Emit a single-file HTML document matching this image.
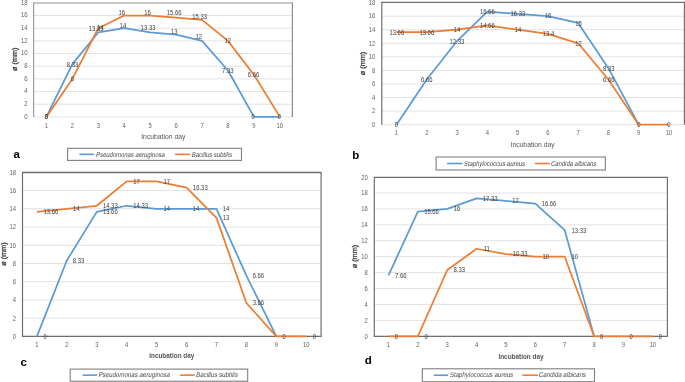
<!DOCTYPE html>
<html><head><meta charset="utf-8"><style>
html,body{margin:0;padding:0;background:#fff;width:685px;height:382px;overflow:hidden}
svg{display:block;will-change:transform}
text{font-family:"Liberation Sans",sans-serif}
</style></head><body>
<svg width="685" height="382" viewBox="0 0 685 382">
<rect width="685" height="382" fill="#fff"/>
<line x1="33.60" y1="116.90" x2="292.40" y2="116.90" stroke="#e2e2e2" stroke-width="1.0"/>
<line x1="33.60" y1="104.23" x2="292.40" y2="104.23" stroke="#e2e2e2" stroke-width="1.0"/>
<line x1="33.60" y1="91.57" x2="292.40" y2="91.57" stroke="#e2e2e2" stroke-width="1.0"/>
<line x1="33.60" y1="78.90" x2="292.40" y2="78.90" stroke="#e2e2e2" stroke-width="1.0"/>
<line x1="33.60" y1="66.23" x2="292.40" y2="66.23" stroke="#e2e2e2" stroke-width="1.0"/>
<line x1="33.60" y1="53.57" x2="292.40" y2="53.57" stroke="#e2e2e2" stroke-width="1.0"/>
<line x1="33.60" y1="40.90" x2="292.40" y2="40.90" stroke="#e2e2e2" stroke-width="1.0"/>
<line x1="33.60" y1="28.23" x2="292.40" y2="28.23" stroke="#e2e2e2" stroke-width="1.0"/>
<line x1="33.60" y1="15.57" x2="292.40" y2="15.57" stroke="#e2e2e2" stroke-width="1.0"/>
<line x1="33.60" y1="3.00" x2="292.40" y2="3.00" stroke="#b5b5b5" stroke-width="1.7"/>
<line x1="33.60" y1="2.40" x2="33.60" y2="116.90" stroke="#9a9a9a" stroke-width="1.2"/>
<line x1="292.40" y1="2.40" x2="292.40" y2="116.90" stroke="#8a8a8a" stroke-width="1.2"/>
<polyline points="46.40,116.90 72.34,64.14 98.28,32.48 124.22,28.23 150.16,32.48 176.10,34.57 202.04,40.90 227.98,70.48 253.92,116.90 279.86,116.90" fill="none" stroke="#5b9bd5" stroke-width="1.75" stroke-linejoin="round" stroke-linecap="butt"/>
<polyline points="46.40,116.90 72.34,78.90 98.28,28.23 124.22,15.57 150.16,15.57 176.10,17.72 202.04,19.81 227.98,40.90 253.92,74.72 279.86,116.90" fill="none" stroke="#ed7d31" stroke-width="1.75" stroke-linejoin="round" stroke-linecap="butt"/>
<text transform="translate(27.50,118.70) scale(0.88,1)" font-size="6.7" text-anchor="end" fill="#636363" font-weight="normal">0</text>
<text transform="translate(27.50,106.03) scale(0.88,1)" font-size="6.7" text-anchor="end" fill="#636363" font-weight="normal">2</text>
<text transform="translate(27.50,93.37) scale(0.88,1)" font-size="6.7" text-anchor="end" fill="#636363" font-weight="normal">4</text>
<text transform="translate(27.50,80.70) scale(0.88,1)" font-size="6.7" text-anchor="end" fill="#636363" font-weight="normal">6</text>
<text transform="translate(27.50,68.03) scale(0.88,1)" font-size="6.7" text-anchor="end" fill="#636363" font-weight="normal">8</text>
<text transform="translate(27.50,55.37) scale(0.88,1)" font-size="6.7" text-anchor="end" fill="#636363" font-weight="normal">10</text>
<text transform="translate(27.50,42.70) scale(0.88,1)" font-size="6.7" text-anchor="end" fill="#636363" font-weight="normal">12</text>
<text transform="translate(27.50,30.03) scale(0.88,1)" font-size="6.7" text-anchor="end" fill="#636363" font-weight="normal">14</text>
<text transform="translate(27.50,17.37) scale(0.88,1)" font-size="6.7" text-anchor="end" fill="#636363" font-weight="normal">16</text>
<text transform="translate(27.50,4.70) scale(0.88,1)" font-size="6.7" text-anchor="end" fill="#636363" font-weight="normal">18</text>
<text transform="translate(46.40,127.70) scale(0.88,1)" font-size="6.7" text-anchor="middle" fill="#636363" font-weight="normal">1</text>
<text transform="translate(72.34,127.70) scale(0.88,1)" font-size="6.7" text-anchor="middle" fill="#636363" font-weight="normal">2</text>
<text transform="translate(98.28,127.70) scale(0.88,1)" font-size="6.7" text-anchor="middle" fill="#636363" font-weight="normal">3</text>
<text transform="translate(124.22,127.70) scale(0.88,1)" font-size="6.7" text-anchor="middle" fill="#636363" font-weight="normal">4</text>
<text transform="translate(150.16,127.70) scale(0.88,1)" font-size="6.7" text-anchor="middle" fill="#636363" font-weight="normal">5</text>
<text transform="translate(176.10,127.70) scale(0.88,1)" font-size="6.7" text-anchor="middle" fill="#636363" font-weight="normal">6</text>
<text transform="translate(202.04,127.70) scale(0.88,1)" font-size="6.7" text-anchor="middle" fill="#636363" font-weight="normal">7</text>
<text transform="translate(227.98,127.70) scale(0.88,1)" font-size="6.7" text-anchor="middle" fill="#636363" font-weight="normal">8</text>
<text transform="translate(253.92,127.70) scale(0.88,1)" font-size="6.7" text-anchor="middle" fill="#636363" font-weight="normal">9</text>
<text transform="translate(279.86,127.70) scale(0.88,1)" font-size="6.7" text-anchor="middle" fill="#636363" font-weight="normal">10</text>
<text transform="translate(46.40,119.40) scale(0.88,1)" font-size="6.7" text-anchor="middle" fill="#404040" font-weight="normal">0</text>
<text transform="translate(72.50,66.60) scale(0.88,1)" font-size="6.7" text-anchor="middle" fill="#404040" font-weight="normal">8.33</text>
<text transform="translate(96.10,30.50) scale(0.88,1)" font-size="6.7" text-anchor="middle" fill="#404040" font-weight="normal">13.33</text>
<text transform="translate(100.20,30.00) scale(0.88,1)" font-size="6.7" text-anchor="middle" fill="#404040" font-weight="normal">14</text>
<text transform="translate(123.00,27.50) scale(0.88,1)" font-size="6.7" text-anchor="middle" fill="#404040" font-weight="normal">14</text>
<text transform="translate(148.10,29.90) scale(0.88,1)" font-size="6.7" text-anchor="middle" fill="#404040" font-weight="normal">13.33</text>
<text transform="translate(174.30,33.80) scale(0.88,1)" font-size="6.7" text-anchor="middle" fill="#404040" font-weight="normal">13</text>
<text transform="translate(198.70,39.30) scale(0.88,1)" font-size="6.7" text-anchor="middle" fill="#404040" font-weight="normal">12</text>
<text transform="translate(227.80,73.00) scale(0.88,1)" font-size="6.7" text-anchor="middle" fill="#404040" font-weight="normal">7.33</text>
<text transform="translate(253.10,119.40) scale(0.88,1)" font-size="6.7" text-anchor="middle" fill="#404040" font-weight="normal">0</text>
<text transform="translate(46.40,119.40) scale(0.88,1)" font-size="6.7" text-anchor="middle" fill="#404040" font-weight="normal">0</text>
<text transform="translate(72.50,81.20) scale(0.88,1)" font-size="6.7" text-anchor="middle" fill="#404040" font-weight="normal">6</text>
<text transform="translate(121.80,14.60) scale(0.88,1)" font-size="6.7" text-anchor="middle" fill="#404040" font-weight="normal">16</text>
<text transform="translate(147.50,14.60) scale(0.88,1)" font-size="6.7" text-anchor="middle" fill="#404040" font-weight="normal">16</text>
<text transform="translate(174.10,14.90) scale(0.88,1)" font-size="6.7" text-anchor="middle" fill="#404040" font-weight="normal">15.66</text>
<text transform="translate(199.70,18.90) scale(0.88,1)" font-size="6.7" text-anchor="middle" fill="#404040" font-weight="normal">15.33</text>
<text transform="translate(227.70,43.20) scale(0.88,1)" font-size="6.7" text-anchor="middle" fill="#404040" font-weight="normal">12</text>
<text transform="translate(253.50,77.00) scale(0.88,1)" font-size="6.7" text-anchor="middle" fill="#404040" font-weight="normal">6.66</text>
<text transform="translate(279.30,119.40) scale(0.88,1)" font-size="6.7" text-anchor="middle" fill="#404040" font-weight="normal">0</text>
<text transform="translate(163.30,138.76) scale(1.03,1)" font-size="6.6" text-anchor="middle" fill="#555" font-weight="normal">Incubation day</text>
<text transform="translate(16.90,59.30) rotate(-90) scale(1.12,1)" font-size="6.5" text-anchor="middle" fill="#444" stroke="#444" stroke-width="0.3">ø (mm)</text>
<rect x="67.60" y="148.30" width="173.90" height="12.10" fill="none" stroke="#7f7f7f" stroke-width="1.1"/>
<line x1="79.40" y1="154.35" x2="93.90" y2="154.35" stroke="#5b9bd5" stroke-width="1.6"/>
<text transform="translate(95.80,156.86) scale(0.845,1) skewX(-12)" font-size="7" text-anchor="start" fill="#454545" font-weight="normal">Pseudomonas aeruginosa</text>
<line x1="175.10" y1="154.35" x2="190.10" y2="154.35" stroke="#ed7d31" stroke-width="1.6"/>
<text transform="translate(191.60,156.86) scale(0.845,1) skewX(-12)" font-size="7" text-anchor="start" fill="#454545" font-weight="normal">Bacillus subtilis</text>
<text x="13.60" y="158.30" font-size="11.5" font-weight="bold" fill="#000">a</text>
<line x1="381.80" y1="124.70" x2="684.40" y2="124.70" stroke="#e2e2e2" stroke-width="1.0"/>
<line x1="381.80" y1="111.13" x2="684.40" y2="111.13" stroke="#e2e2e2" stroke-width="1.0"/>
<line x1="381.80" y1="97.57" x2="684.40" y2="97.57" stroke="#e2e2e2" stroke-width="1.0"/>
<line x1="381.80" y1="84.00" x2="684.40" y2="84.00" stroke="#e2e2e2" stroke-width="1.0"/>
<line x1="381.80" y1="70.43" x2="684.40" y2="70.43" stroke="#e2e2e2" stroke-width="1.0"/>
<line x1="381.80" y1="56.87" x2="684.40" y2="56.87" stroke="#e2e2e2" stroke-width="1.0"/>
<line x1="381.80" y1="43.30" x2="684.40" y2="43.30" stroke="#e2e2e2" stroke-width="1.0"/>
<line x1="381.80" y1="29.73" x2="684.40" y2="29.73" stroke="#e2e2e2" stroke-width="1.0"/>
<line x1="381.80" y1="16.17" x2="684.40" y2="16.17" stroke="#e2e2e2" stroke-width="1.0"/>
<line x1="381.80" y1="2.40" x2="684.40" y2="2.40" stroke="#707070" stroke-width="1.3"/>
<line x1="381.80" y1="1.80" x2="381.80" y2="124.70" stroke="#707070" stroke-width="1.2"/>
<line x1="684.40" y1="1.80" x2="684.40" y2="124.70" stroke="#707070" stroke-width="1.2"/>
<polyline points="396.50,124.70 426.77,79.52 457.04,41.06 487.31,11.69 517.58,13.93 547.85,16.17 578.12,22.95 608.39,68.19 638.66,124.70" fill="none" stroke="#5b9bd5" stroke-width="1.75" stroke-linejoin="round" stroke-linecap="butt"/>
<polyline points="396.50,32.04 426.77,32.04 457.04,29.73 487.31,25.26 517.58,29.73 547.85,33.80 578.12,43.30 608.39,79.52 638.66,124.70 668.93,124.70" fill="none" stroke="#ed7d31" stroke-width="1.75" stroke-linejoin="round" stroke-linecap="butt"/>
<text transform="translate(375.20,127.00) scale(0.88,1)" font-size="6.7" text-anchor="end" fill="#636363" font-weight="normal">0</text>
<text transform="translate(375.20,113.43) scale(0.88,1)" font-size="6.7" text-anchor="end" fill="#636363" font-weight="normal">2</text>
<text transform="translate(375.20,99.87) scale(0.88,1)" font-size="6.7" text-anchor="end" fill="#636363" font-weight="normal">4</text>
<text transform="translate(375.20,86.30) scale(0.88,1)" font-size="6.7" text-anchor="end" fill="#636363" font-weight="normal">6</text>
<text transform="translate(375.20,72.73) scale(0.88,1)" font-size="6.7" text-anchor="end" fill="#636363" font-weight="normal">8</text>
<text transform="translate(375.20,59.17) scale(0.88,1)" font-size="6.7" text-anchor="end" fill="#636363" font-weight="normal">10</text>
<text transform="translate(375.20,45.60) scale(0.88,1)" font-size="6.7" text-anchor="end" fill="#636363" font-weight="normal">12</text>
<text transform="translate(375.20,32.03) scale(0.88,1)" font-size="6.7" text-anchor="end" fill="#636363" font-weight="normal">14</text>
<text transform="translate(375.20,18.47) scale(0.88,1)" font-size="6.7" text-anchor="end" fill="#636363" font-weight="normal">16</text>
<text transform="translate(375.20,4.90) scale(0.88,1)" font-size="6.7" text-anchor="end" fill="#636363" font-weight="normal">18</text>
<text transform="translate(396.50,135.30) scale(0.88,1)" font-size="6.7" text-anchor="middle" fill="#636363" font-weight="normal">1</text>
<text transform="translate(426.77,135.30) scale(0.88,1)" font-size="6.7" text-anchor="middle" fill="#636363" font-weight="normal">2</text>
<text transform="translate(457.04,135.30) scale(0.88,1)" font-size="6.7" text-anchor="middle" fill="#636363" font-weight="normal">3</text>
<text transform="translate(487.31,135.30) scale(0.88,1)" font-size="6.7" text-anchor="middle" fill="#636363" font-weight="normal">4</text>
<text transform="translate(517.58,135.30) scale(0.88,1)" font-size="6.7" text-anchor="middle" fill="#636363" font-weight="normal">5</text>
<text transform="translate(547.85,135.30) scale(0.88,1)" font-size="6.7" text-anchor="middle" fill="#636363" font-weight="normal">6</text>
<text transform="translate(578.12,135.30) scale(0.88,1)" font-size="6.7" text-anchor="middle" fill="#636363" font-weight="normal">7</text>
<text transform="translate(608.39,135.30) scale(0.88,1)" font-size="6.7" text-anchor="middle" fill="#636363" font-weight="normal">8</text>
<text transform="translate(638.66,135.30) scale(0.88,1)" font-size="6.7" text-anchor="middle" fill="#636363" font-weight="normal">9</text>
<text transform="translate(668.93,135.30) scale(0.88,1)" font-size="6.7" text-anchor="middle" fill="#636363" font-weight="normal">10</text>
<text transform="translate(396.30,127.10) scale(0.88,1)" font-size="6.7" text-anchor="middle" fill="#404040" font-weight="normal">0</text>
<text transform="translate(426.80,82.00) scale(0.88,1)" font-size="6.7" text-anchor="middle" fill="#404040" font-weight="normal">6.66</text>
<text transform="translate(456.90,43.70) scale(0.88,1)" font-size="6.7" text-anchor="middle" fill="#404040" font-weight="normal">12.33</text>
<text transform="translate(487.30,13.90) scale(0.88,1)" font-size="6.7" text-anchor="middle" fill="#404040" font-weight="normal">16.66</text>
<text transform="translate(517.90,16.20) scale(0.88,1)" font-size="6.7" text-anchor="middle" fill="#404040" font-weight="normal">16.33</text>
<text transform="translate(548.00,18.10) scale(0.88,1)" font-size="6.7" text-anchor="middle" fill="#404040" font-weight="normal">16</text>
<text transform="translate(578.40,25.60) scale(0.88,1)" font-size="6.7" text-anchor="middle" fill="#404040" font-weight="normal">15</text>
<text transform="translate(608.70,70.80) scale(0.88,1)" font-size="6.7" text-anchor="middle" fill="#404040" font-weight="normal">8.33</text>
<text transform="translate(638.80,127.10) scale(0.88,1)" font-size="6.7" text-anchor="middle" fill="#404040" font-weight="normal">0</text>
<text transform="translate(396.80,34.60) scale(0.88,1)" font-size="6.7" text-anchor="middle" fill="#404040" font-weight="normal">13.66</text>
<text transform="translate(426.80,34.60) scale(0.88,1)" font-size="6.7" text-anchor="middle" fill="#404040" font-weight="normal">13.66</text>
<text transform="translate(456.90,31.90) scale(0.88,1)" font-size="6.7" text-anchor="middle" fill="#404040" font-weight="normal">14</text>
<text transform="translate(487.30,27.80) scale(0.88,1)" font-size="6.7" text-anchor="middle" fill="#404040" font-weight="normal">14.66</text>
<text transform="translate(517.90,31.90) scale(0.88,1)" font-size="6.7" text-anchor="middle" fill="#404040" font-weight="normal">14</text>
<text transform="translate(548.50,35.80) scale(0.88,1)" font-size="6.7" text-anchor="middle" fill="#404040" font-weight="normal">13.4</text>
<text transform="translate(578.40,45.60) scale(0.88,1)" font-size="6.7" text-anchor="middle" fill="#404040" font-weight="normal">12</text>
<text transform="translate(608.70,82.00) scale(0.88,1)" font-size="6.7" text-anchor="middle" fill="#404040" font-weight="normal">6.66</text>
<text transform="translate(668.90,127.10) scale(0.88,1)" font-size="6.7" text-anchor="middle" fill="#404040" font-weight="normal">0</text>
<text transform="translate(532.60,146.76) scale(1.03,1)" font-size="6.6" text-anchor="middle" fill="#555" font-weight="normal">Incubation day</text>
<text transform="translate(364.80,63.50) rotate(-90) scale(1.12,1)" font-size="6.5" text-anchor="middle" fill="#444" stroke="#444" stroke-width="0.3">ø (mm)</text>
<rect x="436.10" y="157.00" width="169.20" height="13.00" fill="none" stroke="#7f7f7f" stroke-width="1.1"/>
<line x1="447.10" y1="163.50" x2="462.40" y2="163.50" stroke="#5b9bd5" stroke-width="1.6"/>
<text transform="translate(463.60,166.01) scale(0.845,1) skewX(-12)" font-size="7" text-anchor="start" fill="#454545" font-weight="normal">Staphylococcus aureus</text>
<line x1="534.90" y1="163.50" x2="549.80" y2="163.50" stroke="#ed7d31" stroke-width="1.6"/>
<text transform="translate(550.70,166.01) scale(0.845,1) skewX(-12)" font-size="7" text-anchor="start" fill="#454545" font-weight="normal">Candida albicans</text>
<text x="352.30" y="158.60" font-size="11.5" font-weight="bold" fill="#000">b</text>
<line x1="22.50" y1="336.40" x2="321.10" y2="336.40" stroke="#e2e2e2" stroke-width="1.0"/>
<line x1="22.50" y1="318.17" x2="321.10" y2="318.17" stroke="#e2e2e2" stroke-width="1.0"/>
<line x1="22.50" y1="299.93" x2="321.10" y2="299.93" stroke="#e2e2e2" stroke-width="1.0"/>
<line x1="22.50" y1="281.70" x2="321.10" y2="281.70" stroke="#e2e2e2" stroke-width="1.0"/>
<line x1="22.50" y1="263.47" x2="321.10" y2="263.47" stroke="#e2e2e2" stroke-width="1.0"/>
<line x1="22.50" y1="245.23" x2="321.10" y2="245.23" stroke="#e2e2e2" stroke-width="1.0"/>
<line x1="22.50" y1="227.00" x2="321.10" y2="227.00" stroke="#e2e2e2" stroke-width="1.0"/>
<line x1="22.50" y1="208.77" x2="321.10" y2="208.77" stroke="#e2e2e2" stroke-width="1.0"/>
<line x1="22.50" y1="190.53" x2="321.10" y2="190.53" stroke="#e2e2e2" stroke-width="1.0"/>
<line x1="22.50" y1="172.50" x2="321.10" y2="172.50" stroke="#6e6e6e" stroke-width="1.3"/>
<line x1="22.50" y1="171.90" x2="22.50" y2="336.40" stroke="#6e6e6e" stroke-width="1.2"/>
<line x1="321.10" y1="171.90" x2="321.10" y2="336.40" stroke="#6e6e6e" stroke-width="1.2"/>
<line x1="21.90" y1="336.40" x2="321.70" y2="336.40" stroke="#6e6e6e" stroke-width="1.2"/>
<polyline points="36.90,336.40 66.83,260.46 96.76,211.87 126.69,205.76 156.62,208.77 186.55,208.77 216.48,208.77 246.41,275.68 276.34,336.40" fill="none" stroke="#5b9bd5" stroke-width="1.75" stroke-linejoin="round" stroke-linecap="butt"/>
<polyline points="36.90,211.87 66.83,208.77 96.76,205.76 126.69,181.42 156.62,181.42 186.55,187.52 216.48,217.88 246.41,303.03 276.34,336.40 306.27,336.40" fill="none" stroke="#ed7d31" stroke-width="1.75" stroke-linejoin="round" stroke-linecap="butt"/>
<text transform="translate(16.10,338.80) scale(0.88,1)" font-size="6.7" text-anchor="end" fill="#636363" font-weight="normal">0</text>
<text transform="translate(16.10,320.57) scale(0.88,1)" font-size="6.7" text-anchor="end" fill="#636363" font-weight="normal">2</text>
<text transform="translate(16.10,302.33) scale(0.88,1)" font-size="6.7" text-anchor="end" fill="#636363" font-weight="normal">4</text>
<text transform="translate(16.10,284.10) scale(0.88,1)" font-size="6.7" text-anchor="end" fill="#636363" font-weight="normal">6</text>
<text transform="translate(16.10,265.87) scale(0.88,1)" font-size="6.7" text-anchor="end" fill="#636363" font-weight="normal">8</text>
<text transform="translate(16.10,247.63) scale(0.88,1)" font-size="6.7" text-anchor="end" fill="#636363" font-weight="normal">10</text>
<text transform="translate(16.10,229.40) scale(0.88,1)" font-size="6.7" text-anchor="end" fill="#636363" font-weight="normal">12</text>
<text transform="translate(16.10,211.17) scale(0.88,1)" font-size="6.7" text-anchor="end" fill="#636363" font-weight="normal">14</text>
<text transform="translate(16.10,192.93) scale(0.88,1)" font-size="6.7" text-anchor="end" fill="#636363" font-weight="normal">16</text>
<text transform="translate(16.10,174.70) scale(0.88,1)" font-size="6.7" text-anchor="end" fill="#636363" font-weight="normal">18</text>
<text transform="translate(36.90,347.00) scale(0.88,1)" font-size="6.7" text-anchor="middle" fill="#636363" font-weight="normal">1</text>
<text transform="translate(66.83,347.00) scale(0.88,1)" font-size="6.7" text-anchor="middle" fill="#636363" font-weight="normal">2</text>
<text transform="translate(96.76,347.00) scale(0.88,1)" font-size="6.7" text-anchor="middle" fill="#636363" font-weight="normal">3</text>
<text transform="translate(126.69,347.00) scale(0.88,1)" font-size="6.7" text-anchor="middle" fill="#636363" font-weight="normal">4</text>
<text transform="translate(156.62,347.00) scale(0.88,1)" font-size="6.7" text-anchor="middle" fill="#636363" font-weight="normal">5</text>
<text transform="translate(186.55,347.00) scale(0.88,1)" font-size="6.7" text-anchor="middle" fill="#636363" font-weight="normal">6</text>
<text transform="translate(216.48,347.00) scale(0.88,1)" font-size="6.7" text-anchor="middle" fill="#636363" font-weight="normal">7</text>
<text transform="translate(246.41,347.00) scale(0.88,1)" font-size="6.7" text-anchor="middle" fill="#636363" font-weight="normal">8</text>
<text transform="translate(276.34,347.00) scale(0.88,1)" font-size="6.7" text-anchor="middle" fill="#636363" font-weight="normal">9</text>
<text transform="translate(306.27,347.00) scale(0.88,1)" font-size="6.7" text-anchor="middle" fill="#636363" font-weight="normal">10</text>
<text transform="translate(45.10,338.80) scale(0.88,1)" font-size="6.7" text-anchor="middle" fill="#404040" font-weight="normal">0</text>
<text transform="translate(78.50,262.80) scale(0.88,1)" font-size="6.7" text-anchor="middle" fill="#404040" font-weight="normal">8.33</text>
<text transform="translate(110.30,214.00) scale(0.88,1)" font-size="6.7" text-anchor="middle" fill="#404040" font-weight="normal">13.66</text>
<text transform="translate(140.60,208.00) scale(0.88,1)" font-size="6.7" text-anchor="middle" fill="#404040" font-weight="normal">14.33</text>
<text transform="translate(166.80,210.50) scale(0.88,1)" font-size="6.7" text-anchor="middle" fill="#404040" font-weight="normal">14</text>
<text transform="translate(196.00,210.50) scale(0.88,1)" font-size="6.7" text-anchor="middle" fill="#404040" font-weight="normal">14</text>
<text transform="translate(225.90,210.50) scale(0.88,1)" font-size="6.7" text-anchor="middle" fill="#404040" font-weight="normal">14</text>
<text transform="translate(258.40,278.00) scale(0.88,1)" font-size="6.7" text-anchor="middle" fill="#404040" font-weight="normal">6.66</text>
<text transform="translate(284.20,338.80) scale(0.88,1)" font-size="6.7" text-anchor="middle" fill="#404040" font-weight="normal">0</text>
<text transform="translate(50.90,214.00) scale(0.88,1)" font-size="6.7" text-anchor="middle" fill="#404040" font-weight="normal">13.66</text>
<text transform="translate(76.20,210.90) scale(0.88,1)" font-size="6.7" text-anchor="middle" fill="#404040" font-weight="normal">14</text>
<text transform="translate(110.30,207.70) scale(0.88,1)" font-size="6.7" text-anchor="middle" fill="#404040" font-weight="normal">14.33</text>
<text transform="translate(136.40,183.90) scale(0.88,1)" font-size="6.7" text-anchor="middle" fill="#404040" font-weight="normal">17</text>
<text transform="translate(166.80,183.90) scale(0.88,1)" font-size="6.7" text-anchor="middle" fill="#404040" font-weight="normal">17</text>
<text transform="translate(200.30,190.00) scale(0.88,1)" font-size="6.7" text-anchor="middle" fill="#404040" font-weight="normal">16.33</text>
<text transform="translate(225.90,220.00) scale(0.88,1)" font-size="6.7" text-anchor="middle" fill="#404040" font-weight="normal">13</text>
<text transform="translate(258.40,304.70) scale(0.88,1)" font-size="6.7" text-anchor="middle" fill="#404040" font-weight="normal">3.66</text>
<text transform="translate(314.30,338.80) scale(0.88,1)" font-size="6.7" text-anchor="middle" fill="#404040" font-weight="normal">0</text>
<text transform="translate(171.80,358.36) scale(0.97,1)" font-size="6.6" text-anchor="middle" fill="#555" font-weight="bold">Incubation day</text>
<text transform="translate(6.10,254.00) rotate(-90) scale(1.12,1)" font-size="6.5" text-anchor="middle" fill="#444" stroke="#444" stroke-width="0.3">ø (mm)</text>
<rect x="70.20" y="369.10" width="177.50" height="12.10" fill="none" stroke="#7f7f7f" stroke-width="1.1"/>
<line x1="82.60" y1="375.15" x2="97.20" y2="375.15" stroke="#5b9bd5" stroke-width="1.6"/>
<text transform="translate(98.20,377.16) scale(0.88,1) skewX(-12)" font-size="7" text-anchor="start" fill="#454545" font-weight="normal">Pseudomonas aeruginosa</text>
<line x1="180.10" y1="375.15" x2="194.60" y2="375.15" stroke="#ed7d31" stroke-width="1.6"/>
<text transform="translate(195.80,377.16) scale(0.88,1) skewX(-12)" font-size="7" text-anchor="start" fill="#454545" font-weight="normal">Bacillus subtilis</text>
<text x="20.40" y="365.50" font-size="11.5" font-weight="bold" fill="#000">c</text>
<line x1="374.30" y1="336.30" x2="667.40" y2="336.30" stroke="#e2e2e2" stroke-width="1.0"/>
<line x1="374.30" y1="320.38" x2="667.40" y2="320.38" stroke="#e2e2e2" stroke-width="1.0"/>
<line x1="374.30" y1="304.46" x2="667.40" y2="304.46" stroke="#e2e2e2" stroke-width="1.0"/>
<line x1="374.30" y1="288.54" x2="667.40" y2="288.54" stroke="#e2e2e2" stroke-width="1.0"/>
<line x1="374.30" y1="272.62" x2="667.40" y2="272.62" stroke="#e2e2e2" stroke-width="1.0"/>
<line x1="374.30" y1="256.70" x2="667.40" y2="256.70" stroke="#e2e2e2" stroke-width="1.0"/>
<line x1="374.30" y1="240.78" x2="667.40" y2="240.78" stroke="#e2e2e2" stroke-width="1.0"/>
<line x1="374.30" y1="224.86" x2="667.40" y2="224.86" stroke="#e2e2e2" stroke-width="1.0"/>
<line x1="374.30" y1="208.94" x2="667.40" y2="208.94" stroke="#e2e2e2" stroke-width="1.0"/>
<line x1="374.30" y1="193.02" x2="667.40" y2="193.02" stroke="#e2e2e2" stroke-width="1.0"/>
<line x1="374.30" y1="177.40" x2="667.40" y2="177.40" stroke="#707070" stroke-width="1.3"/>
<line x1="374.30" y1="176.80" x2="374.30" y2="336.30" stroke="#707070" stroke-width="1.2"/>
<line x1="667.40" y1="176.80" x2="667.40" y2="336.30" stroke="#707070" stroke-width="1.2"/>
<line x1="373.70" y1="336.30" x2="668.00" y2="336.30" stroke="#707070" stroke-width="1.2"/>
<polyline points="388.50,275.33 417.87,211.65 447.24,208.94 476.61,198.35 505.98,200.98 535.35,203.69 564.72,230.19 594.09,336.30" fill="none" stroke="#5b9bd5" stroke-width="1.75" stroke-linejoin="round" stroke-linecap="butt"/>
<polyline points="388.50,336.30 417.87,336.30 447.24,269.99 476.61,248.74 505.98,254.07 535.35,256.70 564.72,256.70 594.09,336.30 623.46,336.30 652.83,336.30" fill="none" stroke="#ed7d31" stroke-width="1.75" stroke-linejoin="round" stroke-linecap="butt"/>
<text transform="translate(367.80,338.70) scale(0.88,1)" font-size="6.7" text-anchor="end" fill="#636363" font-weight="normal">0</text>
<text transform="translate(367.80,322.78) scale(0.88,1)" font-size="6.7" text-anchor="end" fill="#636363" font-weight="normal">2</text>
<text transform="translate(367.80,306.86) scale(0.88,1)" font-size="6.7" text-anchor="end" fill="#636363" font-weight="normal">4</text>
<text transform="translate(367.80,290.94) scale(0.88,1)" font-size="6.7" text-anchor="end" fill="#636363" font-weight="normal">6</text>
<text transform="translate(367.80,275.02) scale(0.88,1)" font-size="6.7" text-anchor="end" fill="#636363" font-weight="normal">8</text>
<text transform="translate(367.80,259.10) scale(0.88,1)" font-size="6.7" text-anchor="end" fill="#636363" font-weight="normal">10</text>
<text transform="translate(367.80,243.18) scale(0.88,1)" font-size="6.7" text-anchor="end" fill="#636363" font-weight="normal">12</text>
<text transform="translate(367.80,227.26) scale(0.88,1)" font-size="6.7" text-anchor="end" fill="#636363" font-weight="normal">14</text>
<text transform="translate(367.80,211.34) scale(0.88,1)" font-size="6.7" text-anchor="end" fill="#636363" font-weight="normal">16</text>
<text transform="translate(367.80,195.42) scale(0.88,1)" font-size="6.7" text-anchor="end" fill="#636363" font-weight="normal">18</text>
<text transform="translate(367.80,179.50) scale(0.88,1)" font-size="6.7" text-anchor="end" fill="#636363" font-weight="normal">20</text>
<text transform="translate(388.50,347.10) scale(0.88,1)" font-size="6.7" text-anchor="middle" fill="#636363" font-weight="normal">1</text>
<text transform="translate(417.87,347.10) scale(0.88,1)" font-size="6.7" text-anchor="middle" fill="#636363" font-weight="normal">2</text>
<text transform="translate(447.24,347.10) scale(0.88,1)" font-size="6.7" text-anchor="middle" fill="#636363" font-weight="normal">3</text>
<text transform="translate(476.61,347.10) scale(0.88,1)" font-size="6.7" text-anchor="middle" fill="#636363" font-weight="normal">4</text>
<text transform="translate(505.98,347.10) scale(0.88,1)" font-size="6.7" text-anchor="middle" fill="#636363" font-weight="normal">5</text>
<text transform="translate(535.35,347.10) scale(0.88,1)" font-size="6.7" text-anchor="middle" fill="#636363" font-weight="normal">6</text>
<text transform="translate(564.72,347.10) scale(0.88,1)" font-size="6.7" text-anchor="middle" fill="#636363" font-weight="normal">7</text>
<text transform="translate(594.09,347.10) scale(0.88,1)" font-size="6.7" text-anchor="middle" fill="#636363" font-weight="normal">8</text>
<text transform="translate(623.46,347.10) scale(0.88,1)" font-size="6.7" text-anchor="middle" fill="#636363" font-weight="normal">9</text>
<text transform="translate(652.83,347.10) scale(0.88,1)" font-size="6.7" text-anchor="middle" fill="#636363" font-weight="normal">10</text>
<text transform="translate(400.70,278.20) scale(0.88,1)" font-size="6.7" text-anchor="middle" fill="#404040" font-weight="normal">7.66</text>
<text transform="translate(431.50,214.30) scale(0.88,1)" font-size="6.7" text-anchor="middle" fill="#404040" font-weight="normal">15.66</text>
<text transform="translate(457.00,211.20) scale(0.88,1)" font-size="6.7" text-anchor="middle" fill="#404040" font-weight="normal">16</text>
<text transform="translate(490.10,200.90) scale(0.88,1)" font-size="6.7" text-anchor="middle" fill="#404040" font-weight="normal">17.33</text>
<text transform="translate(515.50,203.30) scale(0.88,1)" font-size="6.7" text-anchor="middle" fill="#404040" font-weight="normal">17</text>
<text transform="translate(549.00,206.40) scale(0.88,1)" font-size="6.7" text-anchor="middle" fill="#404040" font-weight="normal">16.66</text>
<text transform="translate(578.90,233.00) scale(0.88,1)" font-size="6.7" text-anchor="middle" fill="#404040" font-weight="normal">13.33</text>
<text transform="translate(601.70,338.70) scale(0.88,1)" font-size="6.7" text-anchor="middle" fill="#404040" font-weight="normal">0</text>
<text transform="translate(396.40,338.70) scale(0.88,1)" font-size="6.7" text-anchor="middle" fill="#404040" font-weight="normal">0</text>
<text transform="translate(426.10,338.70) scale(0.88,1)" font-size="6.7" text-anchor="middle" fill="#404040" font-weight="normal">0</text>
<text transform="translate(459.30,272.10) scale(0.88,1)" font-size="6.7" text-anchor="middle" fill="#404040" font-weight="normal">8.33</text>
<text transform="translate(486.70,251.30) scale(0.88,1)" font-size="6.7" text-anchor="middle" fill="#404040" font-weight="normal">11</text>
<text transform="translate(520.20,256.30) scale(0.88,1)" font-size="6.7" text-anchor="middle" fill="#404040" font-weight="normal">10.33</text>
<text transform="translate(545.70,259.10) scale(0.88,1)" font-size="6.7" text-anchor="middle" fill="#404040" font-weight="normal">10</text>
<text transform="translate(574.70,259.10) scale(0.88,1)" font-size="6.7" text-anchor="middle" fill="#404040" font-weight="normal">10</text>
<text transform="translate(631.10,338.70) scale(0.88,1)" font-size="6.7" text-anchor="middle" fill="#404040" font-weight="normal">0</text>
<text transform="translate(660.50,338.70) scale(0.88,1)" font-size="6.7" text-anchor="middle" fill="#404040" font-weight="normal">0</text>
<text transform="translate(521.00,358.66) scale(0.97,1)" font-size="6.6" text-anchor="middle" fill="#555" font-weight="bold">Incubation day</text>
<text transform="translate(357.30,256.60) rotate(-90) scale(1.12,1)" font-size="6.5" text-anchor="middle" fill="#444" stroke="#444" stroke-width="0.3">ø (mm)</text>
<rect x="422.30" y="368.80" width="172.20" height="12.90" fill="none" stroke="#7f7f7f" stroke-width="1.1"/>
<line x1="433.90" y1="375.25" x2="448.00" y2="375.25" stroke="#5b9bd5" stroke-width="1.6"/>
<text transform="translate(449.40,377.26) scale(0.88,1) skewX(-12)" font-size="7" text-anchor="start" fill="#454545" font-weight="normal">Staphylococcus aureus</text>
<line x1="522.40" y1="375.25" x2="537.90" y2="375.25" stroke="#ed7d31" stroke-width="1.6"/>
<text transform="translate(538.50,377.26) scale(0.88,1) skewX(-12)" font-size="7" text-anchor="start" fill="#454545" font-weight="normal">Candida albicans</text>
<text x="364.80" y="364.40" font-size="11.5" font-weight="bold" fill="#000">d</text>
</svg>
</body></html>
